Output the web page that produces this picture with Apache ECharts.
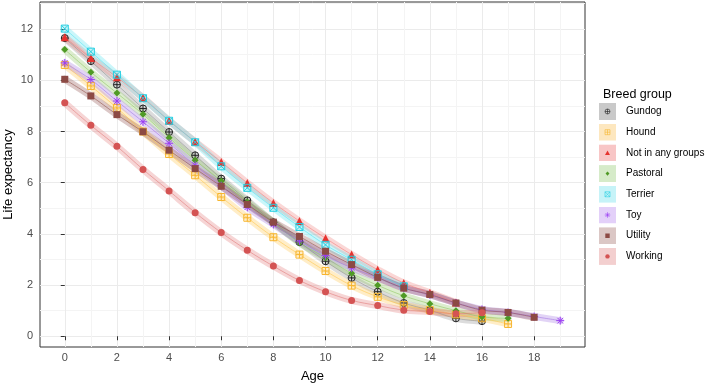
<!DOCTYPE html>
<html>
<head>
<meta charset="utf-8">
<script src="https://cdn.jsdelivr.net/npm/echarts@6/dist/echarts.min.js"></script>
<style>
  html, body { margin: 0; padding: 0; background: #fff; }
  #chart { width: 708px; height: 386px; }
</style>
</head>
<body>
<div id="chart"></div>
<script>
// life expectancy by age, one array per breed group (index = age)
const ages = [0, 1, 2, 3, 4, 5, 6, 7, 8, 9, 10, 11, 12, 13, 14, 15, 16, 17, 18, 19];
const gundog = [11.65, 10.75, 9.83, 8.9, 7.98, 7.07, 6.16, 5.31, 4.45, 3.68, 2.93, 2.28, 1.74, 1.3, 1.02, 0.7, 0.59];
const hound = [10.6, 9.78, 8.92, 8.0, 7.12, 6.29, 5.44, 4.63, 3.87, 3.19, 2.55, 1.98, 1.54, 1.22, 1.02, 0.85, 0.7, 0.48];
const notInAnyGroups = [11.68, 10.87, 10.12, 9.32, 8.42, 7.6, 6.81, 5.99, 5.21, 4.5, 3.83, 3.19, 2.6, 2.08, 1.7, 1.32];
const pastoral = [11.2, 10.32, 9.5, 8.67, 7.76, 6.88, 6.07, 5.25, 4.45, 3.65, 3.07, 2.46, 1.99, 1.58, 1.27, 1.0, 0.76, 0.7];
const terrier = [12.02, 11.12, 10.22, 9.3, 8.42, 7.58, 6.64, 5.8, 5.02, 4.27, 3.57, 2.99, 2.42, 1.95];
const toy = [10.68, 10.03, 9.19, 8.38, 7.54, 6.68, 5.88, 5.04, 4.37, 3.72, 3.15, 2.67, 2.29, 1.88, 1.62, 1.3, 1.05, 0.93, 0.77, 0.61];
const utility = [10.04, 9.39, 8.66, 7.99, 7.27, 6.55, 5.86, 5.15, 4.46, 3.9, 3.32, 2.8, 2.3, 1.88, 1.63, 1.3, 1.02, 0.93, 0.74];
const working = [9.12, 8.24, 7.42, 6.52, 5.68, 4.83, 4.05, 3.36, 2.74, 2.18, 1.74, 1.4, 1.2, 1.02, 0.97, 0.88, 0.92];

const xTicks = [0, 2, 4, 6, 8, 10, 12, 14, 16, 18];
const xMinor = [1, 3, 5, 7, 9, 11, 13, 15, 17, 19];
const yTicks = [0, 2, 4, 6, 8, 10, 12];
const yMinor = [1, 3, 5, 7, 9, 11, 13];

const FONT = 'Liberation Sans, Arial, sans-serif';

// svg shapes, drawn in a 20x20 box
const shapes = {
  circlePlus: { d: 'M10,1A9,9 0 1,0 10,19A9,9 0 1,0 10,1Z M1,10L19,10 M10,1L10,19', fill: false },
  squarePlus: { d: 'M1,1L19,1L19,19L1,19Z M1,10L19,10 M10,1L10,19', fill: false },
  squareX: { d: 'M1,1L19,1L19,19L1,19Z M1,1L19,19 M19,1L1,19', fill: false },
  star: { d: 'M10,0L10,20 M0,10L20,10 M3,3L17,17 M17,3L3,17', fill: false },
  triangle: { d: 'M10,1L19,18L1,18Z', fill: true },
  diamond: { d: 'M10,2L17,10L10,18L3,10Z', fill: true },
  square: { d: 'M2,2L18,2L18,18L2,18Z', fill: true },
  circle: { d: 'M10,2A8,8 0 1,0 10,18A8,8 0 1,0 10,2Z', fill: true }
};

const groups = [
  { name: 'Gundog', values: gundog, shape: 'circlePlus', color: '#222222', band: '#8a8a8a', key: '#c9c9c9', size: 7 },
  { name: 'Hound', values: hound, shape: 'squarePlus', color: '#f7b52e', band: '#ffc445', key: '#fde7bf', size: 7 },
  { name: 'Not in any groups', values: notInAnyGroups, shape: 'triangle', color: '#e6332f', band: '#f07a78', key: '#f8c6c6', size: 8 },
  { name: 'Pastoral', values: pastoral, shape: 'diamond', color: '#4f9a25', band: '#8cc45c', key: '#d6ebc9', size: 7 },
  { name: 'Terrier', values: terrier, shape: 'squareX', color: '#25cfe2', band: '#4ee2f0', key: '#c6f3f8', size: 7 },
  { name: 'Toy', values: toy, shape: 'star', color: '#9b3cf3', band: '#9f6fe0', key: '#e3d0f9', size: 8 },
  { name: 'Utility', values: utility, shape: 'square', color: '#8c4a44', band: '#8c4a44', key: '#dbc7c5', size: 7 },
  { name: 'Working', values: working, shape: 'circle', color: '#d45353', band: '#e07474', key: '#f3cfcf', size: 7 }
];

function keyIcon(g) {
  const s = shapes[g.shape];
  const paint = s.fill ? `fill='${g.color}' stroke='none'` : `fill='none' stroke='${g.color}' stroke-width='2.2'`;
  const svg = `<svg xmlns='http://www.w3.org/2000/svg' width='34' height='34' viewBox='0 0 34 34'>` +
    `<rect width='34' height='34' fill='${g.key}'/>` +
    `<g transform='translate(11.5,11.5) scale(0.55)'><path d='${s.d}' ${paint}/></g></svg>`;
  return 'image://data:image/svg+xml;charset=utf-8,' + encodeURIComponent(svg);
}

const series = [];
groups.forEach(g => {
  const data = g.values.map((v, i) => [ages[i], v]);
  series.push({
    type: 'line',
    name: g.name,
    data: data,
    smooth: 0.35,
    symbol: 'none',
    silent: true,
    z: 2,
    lineStyle: { width: 7, color: g.band, opacity: 0.3, cap: 'round' }
  });
  const s = shapes[g.shape];
  series.push({
    type: 'line',
    name: g.name,
    data: data,
    smooth: 0.35,
    symbol: 'path://' + s.d,
    symbolSize: g.size,
    z: 3,
    lineStyle: { width: 1, color: g.band, opacity: 0.55 },
    itemStyle: s.fill
      ? { color: g.color, borderWidth: 0 }
      : { color: 'none', borderColor: g.color, borderWidth: 1 },
    emphasis: { disabled: true }
  });
});

const chart = echarts.init(document.getElementById('chart'));
chart.setOption({
  animation: false,
  backgroundColor: '#fff',
  textStyle: { fontFamily: FONT },
  grid: {
    left: 40, right: 123, top: 2, bottom: 39,
    containLabel: false, outerBoundsMode: 'none',
    show: true, borderColor: '#333', borderWidth: 1
  },
  title: {
    text: 'Breed group', left: 598, top: 83,
    textStyle: { fontSize: 12.5, fontWeight: 'normal', color: '#000', fontFamily: FONT }
  },
  legend: {
    orient: 'vertical', left: 599, top: 103, padding: 0,
    itemWidth: 17, itemHeight: 17, itemGap: 3.7,
    selectedMode: false,
    textStyle: { fontSize: 10, color: '#000', fontFamily: FONT, padding: [0, 0, 0, 5] },
    data: groups.map(g => ({ name: g.name, icon: keyIcon(g) }))
  },
  xAxis: [
    {
      type: 'value', min: -0.95, max: 19.95,
      name: 'Age', nameLocation: 'middle', nameGap: 23, nameMoveOverlap: false,
      nameTextStyle: { fontSize: 13, color: '#000', fontFamily: FONT },
      axisLine: { show: false },
      axisTick: { show: true, length: 4, customValues: xTicks, lineStyle: { color: '#333' } },
      axisLabel: { customValues: xTicks, fontSize: 11, color: '#4d4d4d', margin: 5, fontFamily: FONT },
      splitLine: { show: true, lineStyle: { color: '#ebebeb', width: 1 } }
    },
    {
      type: 'value', min: -0.95, max: 19.95, position: 'top',
      axisLine: { show: false },
      axisTick: { show: false, customValues: xMinor },
      axisLabel: { show: false, customValues: xMinor },
      splitLine: { show: true, lineStyle: { color: '#f4f4f4', width: 1 } }
    }
  ],
  yAxis: [
    {
      type: 'value', min: -0.42, max: 13.06,
      name: 'Life expectancy', nameLocation: 'middle', nameGap: 25, nameMoveOverlap: false,
      nameTextStyle: { fontSize: 13, color: '#000', fontFamily: FONT },
      axisLine: { show: false },
      axisTick: { show: true, length: 4, customValues: yTicks, lineStyle: { color: '#333' } },
      axisLabel: { customValues: yTicks, fontSize: 11, color: '#4d4d4d', margin: 7, fontFamily: FONT },
      splitLine: { show: true, lineStyle: { color: '#ebebeb', width: 1 } }
    },
    {
      type: 'value', min: -0.42, max: 13.06, position: 'right',
      axisLine: { show: false },
      axisTick: { show: false, customValues: yMinor },
      axisLabel: { show: false, customValues: yMinor },
      splitLine: { show: true, lineStyle: { color: '#f4f4f4', width: 1 } }
    }
  ],
  series: series
});
</script>
</body>
</html>
